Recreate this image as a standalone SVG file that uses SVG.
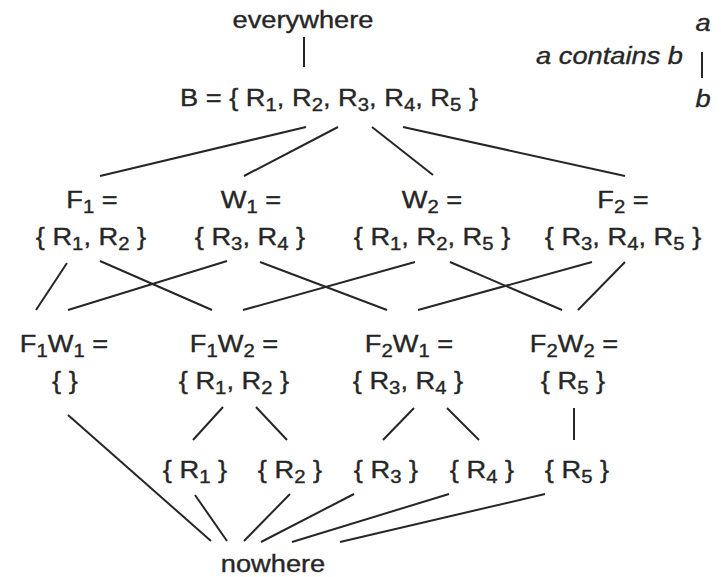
<svg xmlns="http://www.w3.org/2000/svg" width="721" height="577" viewBox="0 0 721 577">
<style>
text{font-family:"Liberation Sans",Arial,sans-serif;font-size:23.5px;fill:#262626;stroke:#262626;stroke-width:0.35px;text-anchor:middle}
.sub{font-size:17.5px}
.it{font-style:italic}
.e{text-anchor:end}
#connectors line{stroke:#262626;stroke-width:2;stroke-linecap:butt}
</style>
<rect width="721" height="577" fill="#ffffff"/>
<g id="connectors">
<line x1="304" y1="37" x2="304" y2="67"/>
<line x1="306" y1="127" x2="100" y2="176"/>
<line x1="338" y1="127" x2="244" y2="176"/>
<line x1="372" y1="127" x2="433" y2="175"/>
<line x1="403" y1="127" x2="625" y2="176"/>
<line x1="67" y1="263" x2="36" y2="310"/>
<line x1="100" y1="261" x2="212" y2="310"/>
<line x1="227" y1="261" x2="68" y2="310"/>
<line x1="260" y1="262" x2="387" y2="310"/>
<line x1="415" y1="262" x2="243" y2="310"/>
<line x1="450" y1="262" x2="562" y2="310"/>
<line x1="592" y1="262" x2="418" y2="310"/>
<line x1="625" y1="262" x2="578" y2="310"/>
<line x1="223" y1="407" x2="193" y2="440"/>
<line x1="256" y1="407" x2="287" y2="440"/>
<line x1="414" y1="408" x2="383" y2="440"/>
<line x1="447" y1="408" x2="479" y2="440"/>
<line x1="574" y1="408" x2="574" y2="440"/>
<line x1="68" y1="415" x2="211" y2="541"/>
<line x1="195" y1="495" x2="227" y2="541"/>
<line x1="290" y1="494" x2="244" y2="541"/>
<line x1="354" y1="494" x2="261" y2="542"/>
<line x1="449" y1="494" x2="292" y2="542"/>
<line x1="545" y1="494" x2="340" y2="542"/>
<line x1="702" y1="52" x2="702" y2="78"/>
</g>
<g id="legend">
<text class="it" transform="translate(703,31) scale(1.16,1)">a</text>
<text class="it e" transform="translate(683,64) scale(1.16,1)">a contains b</text>
<text class="it" transform="translate(703,107) scale(1.16,1)">b</text>
</g>
<g id="everywhere"><text transform="translate(303,28) scale(1.16,1)">everywhere</text></g>
<g id="B"><text transform="translate(329,106) scale(1.16,1)">B = { R<tspan class="sub" dy="5">1</tspan><tspan dy="-5">, R</tspan><tspan class="sub" dy="5">2</tspan><tspan dy="-5">, R</tspan><tspan class="sub" dy="5">3</tspan><tspan dy="-5">, R</tspan><tspan class="sub" dy="5">4</tspan><tspan dy="-5">, R</tspan><tspan class="sub" dy="5">5</tspan><tspan dy="-5"> }</tspan></text></g>
<g id="F1">
<text transform="translate(92,208) scale(1.16,1)">F<tspan class="sub" dy="5">1</tspan><tspan dy="-5"> =</tspan></text>
<text transform="translate(91,245) scale(1.16,1)">{ R<tspan class="sub" dy="5">1</tspan><tspan dy="-5">, R</tspan><tspan class="sub" dy="5">2</tspan><tspan dy="-5"> }</tspan></text>
</g>
<g id="W1">
<text transform="translate(251,208) scale(1.16,1)">W<tspan class="sub" dy="5">1</tspan><tspan dy="-5"> =</tspan></text>
<text transform="translate(250,245) scale(1.16,1)">{ R<tspan class="sub" dy="5">3</tspan><tspan dy="-5">, R</tspan><tspan class="sub" dy="5">4</tspan><tspan dy="-5"> }</tspan></text>
</g>
<g id="W2">
<text transform="translate(432,208) scale(1.16,1)">W<tspan class="sub" dy="5">2</tspan><tspan dy="-5"> =</tspan></text>
<text transform="translate(432,245) scale(1.16,1)">{ R<tspan class="sub" dy="5">1</tspan><tspan dy="-5">, R</tspan><tspan class="sub" dy="5">2</tspan><tspan dy="-5">, R</tspan><tspan class="sub" dy="5">5</tspan><tspan dy="-5"> }</tspan></text>
</g>
<g id="F2">
<text transform="translate(623,208) scale(1.16,1)">F<tspan class="sub" dy="5">2</tspan><tspan dy="-5"> =</tspan></text>
<text transform="translate(623,245) scale(1.16,1)">{ R<tspan class="sub" dy="5">3</tspan><tspan dy="-5">, R</tspan><tspan class="sub" dy="5">4</tspan><tspan dy="-5">, R</tspan><tspan class="sub" dy="5">5</tspan><tspan dy="-5"> }</tspan></text>
</g>
<g id="F1W1">
<text transform="translate(64,352) scale(1.16,1)">F<tspan class="sub" dy="5">1</tspan><tspan dy="-5">W</tspan><tspan class="sub" dy="5">1</tspan><tspan dy="-5"> =</tspan></text>
<text transform="translate(65,389) scale(1.16,1)">{ }</text>
</g>
<g id="F1W2">
<text transform="translate(234,352) scale(1.16,1)">F<tspan class="sub" dy="5">1</tspan><tspan dy="-5">W</tspan><tspan class="sub" dy="5">2</tspan><tspan dy="-5"> =</tspan></text>
<text transform="translate(234,389) scale(1.16,1)">{ R<tspan class="sub" dy="5">1</tspan><tspan dy="-5">, R</tspan><tspan class="sub" dy="5">2</tspan><tspan dy="-5"> }</tspan></text>
</g>
<g id="F2W1">
<text transform="translate(409,352) scale(1.16,1)">F<tspan class="sub" dy="5">2</tspan><tspan dy="-5">W</tspan><tspan class="sub" dy="5">1</tspan><tspan dy="-5"> =</tspan></text>
<text transform="translate(408,389) scale(1.16,1)">{ R<tspan class="sub" dy="5">3</tspan><tspan dy="-5">, R</tspan><tspan class="sub" dy="5">4</tspan><tspan dy="-5"> }</tspan></text>
</g>
<g id="F2W2">
<text transform="translate(574,352) scale(1.16,1)">F<tspan class="sub" dy="5">2</tspan><tspan dy="-5">W</tspan><tspan class="sub" dy="5">2</tspan><tspan dy="-5"> =</tspan></text>
<text transform="translate(573,389) scale(1.16,1)">{ R<tspan class="sub" dy="5">5</tspan><tspan dy="-5"> }</tspan></text>
</g>
<g id="R1"><text transform="translate(195,478) scale(1.16,1)">{ R<tspan class="sub" dy="5">1</tspan><tspan dy="-5"> }</tspan></text></g>
<g id="R2"><text transform="translate(290,478) scale(1.16,1)">{ R<tspan class="sub" dy="5">2</tspan><tspan dy="-5"> }</tspan></text></g>
<g id="R3"><text transform="translate(386,478) scale(1.16,1)">{ R<tspan class="sub" dy="5">3</tspan><tspan dy="-5"> }</tspan></text></g>
<g id="R4"><text transform="translate(482,478) scale(1.16,1)">{ R<tspan class="sub" dy="5">4</tspan><tspan dy="-5"> }</tspan></text></g>
<g id="R5"><text transform="translate(577,478) scale(1.16,1)">{ R<tspan class="sub" dy="5">5</tspan><tspan dy="-5"> }</tspan></text></g>
<g id="nowhere"><text transform="translate(273,572) scale(1.16,1)">nowhere</text></g>
</svg>
